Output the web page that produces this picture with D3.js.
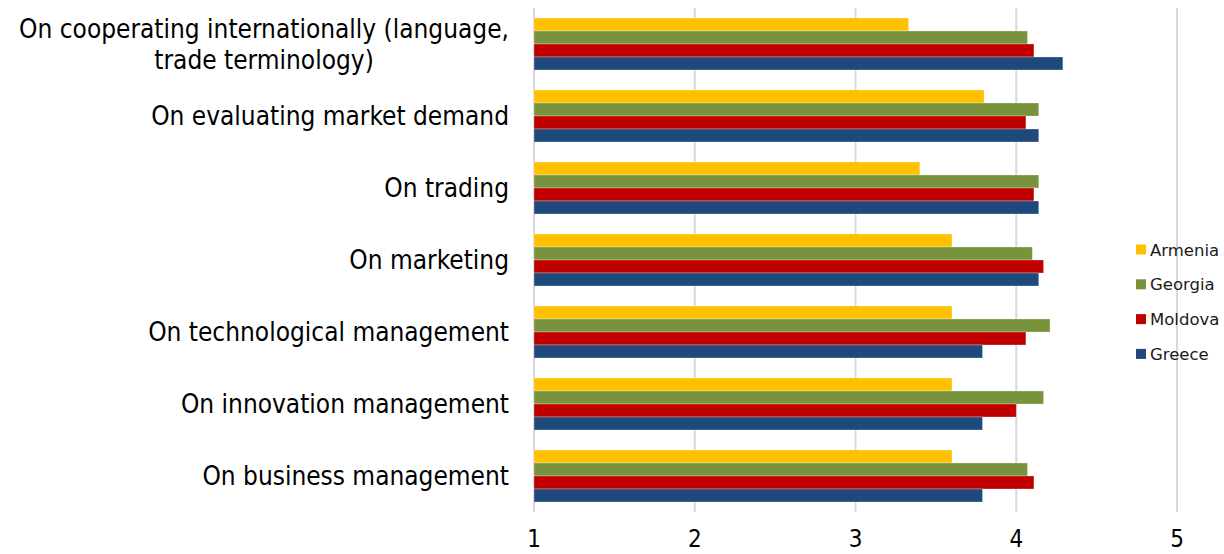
<!DOCTYPE html>
<head>
    <script type="text/javascript" src="https://d3js.org/d3.v7.min.js"></script>
    <style>
        body { margin: 0; background: #fff; }
        .cat text { font-family: "DejaVu Sans Condensed", "DejaVu Sans", sans-serif; fill: #000; text-anchor: end; }
        .tick-label { font-family: "Liberation Sans Narrow", "DejaVu Sans Condensed", sans-serif; font-size: 24px; fill: #000; text-anchor: middle; }
        .legend text { font-family: "DejaVu Sans", sans-serif; font-size: 16.5px; fill: #1a1a1a; }
    </style>
</head>
<body>
<svg class="chart"></svg>

<script>
    // categories top to bottom
    var categories = [
        "On cooperating internationally (language,|trade terminology)",
        "On evaluating market demand",
        "On trading",
        "On marketing",
        "On technological management",
        "On innovation management",
        "On business management"
    ];

    var series = ["Armenia", "Georgia", "Moldova", "Greece"];
    var colors = ["#FFC000", "#77933C", "#C00000", "#1F497D"];

    var armenia = [3.33, 3.80, 3.40, 3.60, 3.60, 3.60, 3.60];
    var georgia = [4.07, 4.14, 4.14, 4.10, 4.21, 4.17, 4.07];
    var moldova = [4.11, 4.06, 4.11, 4.17, 4.06, 4.00, 4.11];
    var greece  = [4.29, 4.14, 4.14, 4.14, 3.79, 3.79, 3.79];

    var ticks = [1, 2, 3, 4, 5];

    var values = [armenia, georgia, moldova, greece];

    var width = 1224, height = 554;
    var plotLeft = 534, plotRight = 1177, plotTop = 8, plotBottom = 512;
    var labelRight = 509;

    var svg = d3.select(".chart")
        .attr("width", width)
        .attr("height", height);

    var x = d3.scaleLinear().domain([1, 5]).range([plotLeft, plotRight]);

    var y = d3.scaleBand()
        .domain(d3.range(categories.length))
        .range([plotTop, plotBottom])
        .paddingInner(0.278)
        .paddingOuter(0.139);

    var ySub = d3.scaleBand()
        .domain(series)
        .range([0, y.bandwidth()]);

    // gridlines
    svg.append("g").selectAll("line")
        .data(ticks)
        .enter().append("line")
        .attr("x1", function(d) { return x(d); })
        .attr("x2", function(d) { return x(d); })
        .attr("y1", plotTop)
        .attr("y2", plotBottom)
        .attr("stroke", "#d9d9d9")
        .attr("stroke-width", 2);

    // bars
    var group = svg.selectAll("g.grp")
        .data(categories)
        .enter().append("g")
        .attr("class", "grp")
        .attr("transform", function(d, i) { return "translate(0," + y(i) + ")"; });

    group.selectAll("rect")
        .data(function(d, i) {
            return series.map(function(s, j) { return { s: s, v: values[j][i], c: colors[j] }; });
        })
        .enter().append("rect")
        .attr("x", x(1))
        .attr("y", function(d) { return ySub(d.s); })
        .attr("width", function(d) { return x(d.v) - x(1); })
        .attr("height", ySub.bandwidth())
        .attr("fill", function(d) { return d.c; })
        .attr("stroke", "rgba(255,255,255,0.35)")
        .attr("stroke-width", 0.8);

    // category labels
    var cat = svg.append("g").attr("class", "cat");
    var fontSize = 24;
    var lineGap = 31;
    var labels = cat.selectAll("text")
        .data(categories)
        .enter().append("text")
        .style("font-size", fontSize + "px")
        .attr("x", labelRight)
        .attr("y", function(d, i) { return y(i) + y.bandwidth() / 2 + 9; })
        .each(function(d) {
            var lines = d.split("|");
            var t = d3.select(this);
            lines.forEach(function(l, k) {
                t.append("tspan")
                    .attr("x", labelRight)
                    .attr("dy", k === 0 ? (-(lines.length - 1) * lineGap / 2) : lineGap)
                    .style("text-anchor", k > 0 ? "middle" : null)
                    .text(l);
            });
        });

    // fit font size so that "On technological management" is ~361px wide
    var probe = labels.filter(function(d, i) { return i === 4; }).node();
    var w = probe.getComputedTextLength();
    fontSize = fontSize * 361 / w;
    labels.style("font-size", fontSize + "px");

    // second line of first label is centred under the first line
    labels.filter(function(d, i) { return i === 0; }).each(function() {
        var spans = d3.select(this).selectAll("tspan").nodes();
        var fw = spans[0].getComputedTextLength();
        d3.select(spans[1]).attr("x", labelRight - fw / 2);
    });

    // x tick labels
    svg.append("g").selectAll("text")
        .data(ticks)
        .enter().append("text")
        .attr("class", "tick-label")
        .attr("x", function(d) { return x(d); })
        .attr("y", 547)
        .text(function(d) { return d; });

    // legend
    var legend = svg.append("g").attr("class", "legend")
        .selectAll("g")
        .data(series)
        .enter().append("g")
        .attr("transform", function(d, i) { return "translate(1136," + (249.5 + i * 34.8) + ")"; });

    legend.append("rect")
        .attr("x", 0)
        .attr("y", -5)
        .attr("width", 10)
        .attr("height", 10)
        .attr("fill", function(d, i) { return colors[i]; });

    legend.append("text")
        .attr("x", 14)
        .attr("y", 6)
        .text(function(d) { return d; });
</script>
</body>
